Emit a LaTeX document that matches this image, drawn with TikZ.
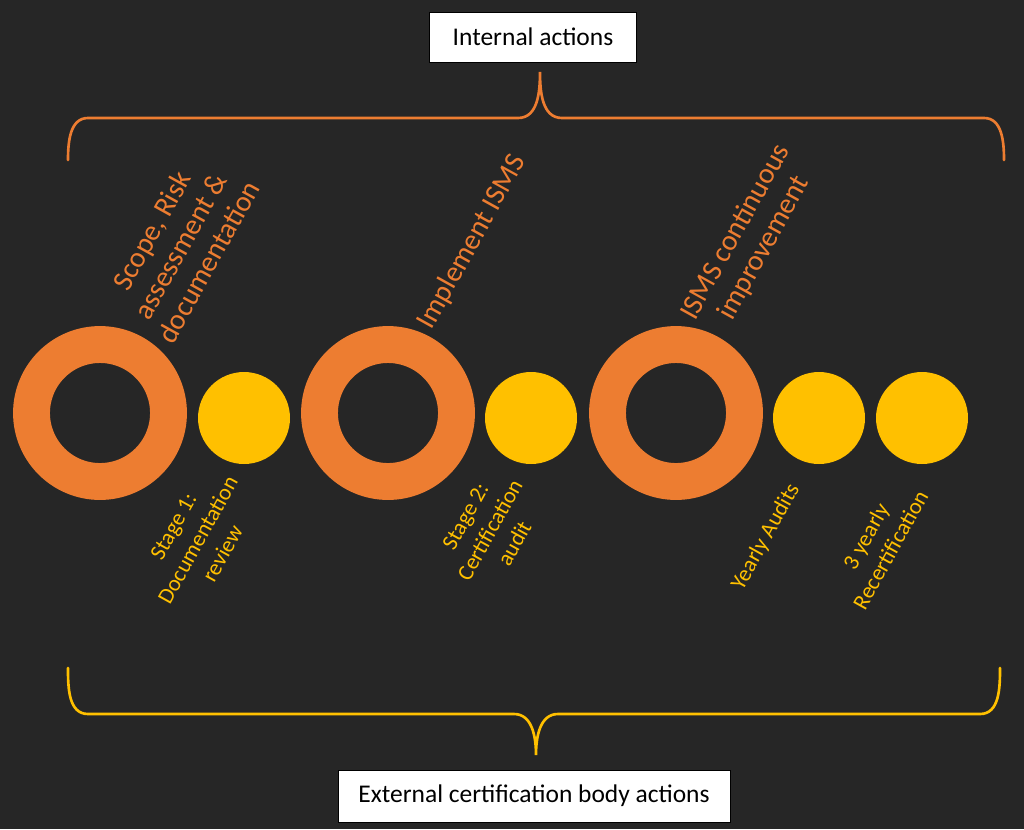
\documentclass[tikz,border=0pt]{standalone}
\usepackage{fontspec}
\setmainfont{Carlito}
\definecolor{bg}{HTML}{262626}
\definecolor{ringor}{HTML}{ED7D31}
\definecolor{dotyel}{HTML}{FFC000}
\tikzset{
  ring/.style={circle, draw=ringor, line width=21pt, minimum size=2.74cm, inner sep=0pt},
  dot/.style={circle, fill=dotyel, minimum size=1.84cm, inner sep=0pt},
  lbl/.style={rotate=61, align=center, inner sep=0pt},
  biglbl/.style={lbl, text=ringor, font={\fontsize{16.5}{18.5}\selectfont}},
  smalllbl/.style={lbl, text=dotyel, font={\fontsize{12.8}{16}\selectfont}},
  box/.style={draw=black, fill=white, thin, inner sep=0pt, text=black, font={\fontsize{14.5}{16}\selectfont}},
  brace/.style={line width=1.5pt, line cap=round}
}
\begin{document}
\begin{tikzpicture}[x=0.02cm, y=-0.02cm]
  \fill[bg] (0,0) rectangle (1024,829);
  \useasboundingbox (0,0) rectangle (1024,829);

  % boxes
  \node[box, minimum width=4.14cm, minimum height=1cm] (top) at (533,37) {Internal actions};
  \node[box, minimum width=7.84cm, minimum height=1.04cm] (bottom) at (534,796) {External certification body actions};

  % braces
  \coordinate (tl) at (68,160);
  \coordinate (tr) at (1004,160);
  \coordinate (tt) at (540,72);
  \draw[brace, ringor] (tl) to[out=90, in=180] (88,118) -- (518,118) to[out=0, in=-90] (tt)
    to[out=-90, in=180] (562,118) -- (984,118) to[out=0, in=90] (tr);
  \coordinate (bl) at (68,668);
  \coordinate (br) at (1000,668);
  \coordinate (bt) at (536,755);
  \draw[brace, dotyel] (bl) to[out=-90, in=180] (88,714) -- (514,714) to[out=0, in=90] (bt)
    to[out=90, in=180] (558,714) -- (980,714) to[out=0, in=-90] (br);

  % rings and dots
  \node[ring] (scope) at (100,413) {};
  \node[dot] (stage1) at (244,418) {};
  \node[ring] (impl) at (388,413) {};
  \node[dot] (stage2) at (531,418) {};
  \node[ring] (improve) at (676,413) {};
  \node[dot] (yearly) at (819,418) {};
  \node[dot] (recert) at (922,418) {};

  % labels
  \node[biglbl] (scopetxt) at (180,246) {Scope, Risk\\assessment \&\\documentation};
  \node[biglbl] (impltxt) at (472,242) {Implement ISMS};
  \node[biglbl] (improvetxt) at (750,240) {ISMS continuous\\improvement};
  \node[smalllbl] (stage1txt) at (198,540) {Stage 1:\\Documentation\\review};
  \node[smalllbl] (stage2txt) at (490,530) {Stage 2:\\Certification\\audit};
  \node[smalllbl] (yearlytxt) at (766,537) {Yearly Audits};
  \node[smalllbl] (recerttxt) at (878,543) {3 yearly\\Recertification};
\end{tikzpicture}
\end{document}
